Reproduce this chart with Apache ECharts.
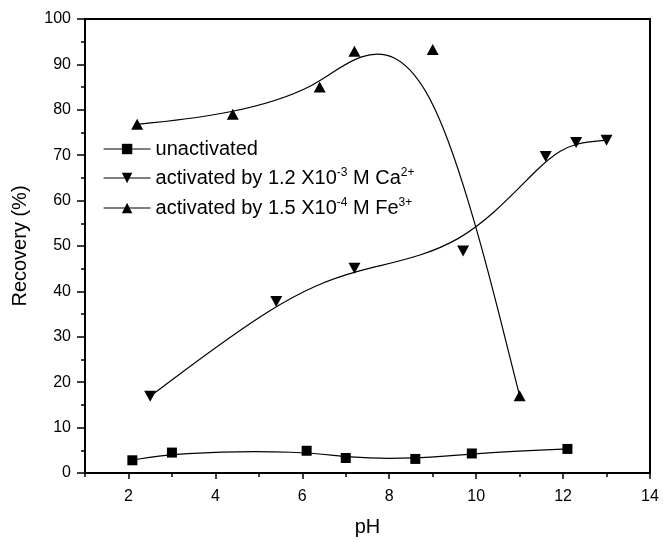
<!DOCTYPE html>
<html>
<head>
<meta charset="utf-8">
<script src="https://cdn.jsdelivr.net/npm/echarts@6/dist/echarts.min.js"></script>
<style>
html,body{margin:0;padding:0;background:#fff;}
#c{width:663px;height:542px;}
</style>
</head>
<body>
<div id="c"></div>
<script>
// ---- data ----
const seriesNames = ['unactivated', 'activated by 1.2 X10-3 M Ca2+', 'activated by 1.5 X10-4 M Fe3+'];
const phUn = [2.09, 3.0, 6.1, 7.0, 8.6, 9.9, 12.1];
const recUn = [2.8, 4.5, 4.9, 3.3, 3.1, 4.3, 5.3];
const phCa = [2.5, 5.4, 7.2, 9.7, 11.6, 12.3, 13.0];
const recCa = [16.9, 37.8, 45.1, 48.9, 69.7, 72.8, 73.3];
const phFe = [2.2, 4.4, 6.4, 7.2, 9.0, 11.0];
const recFe = [76.8, 79.0, 85.0, 92.9, 93.3, 17.0];
const xMin = 1, xMax = 14, yMin = 0, yMax = 100;

const FONT = '"Liberation Sans", Arial, sans-serif';
const zip = (xs, ys) => xs.map((x, i) => [x, ys[i]]);

// B-spline connecting curve (data points used as control points), drawn via the axes' coord
function splineItem(xs, ys) {
  return function (params, api) {
    const p = xs.map((x, i) => api.coord([x, ys[i]]));
    const n = p.length;
    const q = [p[0], p[0]].concat(p, [p[n - 1], p[n - 1]]);
    let d = 'M' + p[0][0] + ' ' + p[0][1];
    for (let i = 1; i < q.length - 2; i++) {
      const b = q[i], c = q[i + 1], e = q[i + 2];
      const b1 = [(2 * b[0] + c[0]) / 3, (2 * b[1] + c[1]) / 3];
      const b2 = [(b[0] + 2 * c[0]) / 3, (b[1] + 2 * c[1]) / 3];
      const b3 = [(b[0] + 4 * c[0] + e[0]) / 6, (b[1] + 4 * c[1] + e[1]) / 6];
      d += ' C' + b1.join(' ') + ' ' + b2.join(' ') + ' ' + b3.join(' ');
    }
    return { type: 'path', shape: { pathData: d }, style: { fill: null, stroke: '#000', lineWidth: 1.2 } };
  };
}

const chart = echarts.init(document.getElementById('c'), null, { renderer: 'canvas' });

function markerSeries(name, xs, ys, symbol, size, rotate) {
  return {
    name: name, type: 'line', xAxisIndex: 1, yAxisIndex: 0,
    data: zip(xs, ys), symbol: symbol, symbolSize: size, symbolRotate: rotate || 0,
    showSymbol: true, itemStyle: { color: '#000', borderWidth: 0 },
    lineStyle: { opacity: 0 }, z: 5, animation: false, emphasis: { disabled: true }
  };
}
function curveSeries(xs, ys) {
  return {
    type: 'custom', xAxisIndex: 1, yAxisIndex: 0, data: [[xs[0], ys[0]]],
    renderItem: splineItem(xs, ys), silent: true, z: 3, animation: false
  };
}

const option = {
  backgroundColor: '#fff',
  animation: false,
  grid: { left: 85, right: 13, top: 19, bottom: 68, show: true, borderColor: '#000', borderWidth: 2, backgroundColor: 'transparent' },
  legend: {
    orient: 'vertical', left: 98, top: 134, itemGap: 8, itemWidth: 47, itemHeight: 13,
    data: seriesNames,
    lineStyle: { color: '#000', width: 1.2, opacity: 1 },
    textStyle: {
      fontFamily: FONT, fontSize: 20, color: '#000',
      rich: {
        a: { fontFamily: FONT, fontSize: 20, color: '#000', lineHeight: 22 },
        s: { fontFamily: FONT, fontSize: 12, color: '#000', verticalAlign: 'top', lineHeight: 22, padding: [0, 0, 10, 0] }
      }
    },
    formatter: function (name) {
      if (name === seriesNames[1]) return '{a|activated by 1.2 X10}{s|-3}{a| M Ca}{s|2+}';
      if (name === seriesNames[2]) return '{a|activated by 1.5 X10}{s|-4}{a| M Fe}{s|3+}';
      return '{a|' + name + '}';
    }
  },
  xAxis: [
    {
      type: 'value', min: xMin, max: xMax, interval: 1,
      axisLine: { show: true, lineStyle: { color: '#000', width: 2 } },
      axisTick: { show: true, length: 4, lineStyle: { color: '#000', width: 1.5 } },
      axisLabel: { show: false }, splitLine: { show: false }
    },
    {
      type: 'value', min: xMin, max: xMax, splitNumber: 6, position: 'bottom',
      name: 'pH', nameLocation: 'middle', nameGap: 44,
      nameTextStyle: { fontFamily: FONT, fontSize: 20, color: '#000' },
      axisLine: { show: true, lineStyle: { color: '#000', width: 2 } },
      axisTick: { show: true, length: 6, lineStyle: { color: '#000', width: 1.5 } },
      axisLabel: { show: true, showMinLabel: false, margin: 16, fontFamily: FONT, fontSize: 16, color: '#000' },
      splitLine: { show: false }
    }
  ],
  yAxis: [{
    type: 'value', min: yMin, max: yMax, interval: 10,
    name: 'Recovery (%)', nameLocation: 'middle', nameGap: 55, nameRotate: 90,
    nameTextStyle: { fontFamily: FONT, fontSize: 20, color: '#000' },
    axisLine: { show: true, lineStyle: { color: '#000', width: 2 } },
    axisTick: { show: true, length: 8, lineStyle: { color: '#000', width: 1.5 } },
    minorTick: { show: true, splitNumber: 2, length: 4, lineStyle: { color: '#000', width: 1.5 } },
    axisLabel: { margin: 14, fontFamily: FONT, fontSize: 16, color: '#000' },
    splitLine: { show: false }
  }],
  series: [
    curveSeries(phUn, recUn),
    curveSeries(phCa, recCa),
    curveSeries(phFe, recFe),
    markerSeries(seriesNames[0], phUn, recUn, 'rect', 10),
    markerSeries(seriesNames[1], phCa, recCa, 'triangle', [12, 11], 180),
    markerSeries(seriesNames[2], phFe, recFe, 'triangle', [12, 11])
  ]
};
chart.setOption(option);
</script>
</body>
</html>
